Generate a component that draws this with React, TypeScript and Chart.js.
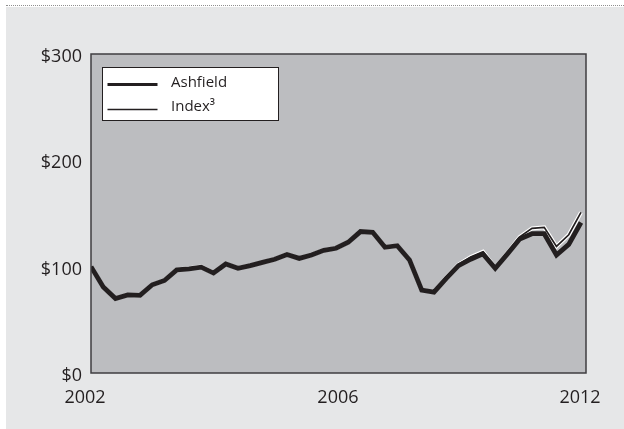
import React, { useEffect, useRef } from "react";
import { Chart, registerables } from "chart.js";

Chart.register(...registerables);

// Quarterly observations, start of 2002 to start of 2012
const periods = [
  "2002Q1", "2002Q2", "2002Q3", "2002Q4",
  "2003Q1", "2003Q2", "2003Q3", "2003Q4",
  "2004Q1", "2004Q2", "2004Q3", "2004Q4",
  "2005Q1", "2005Q2", "2005Q3", "2005Q4",
  "2006Q1", "2006Q2", "2006Q3", "2006Q4",
  "2007Q1", "2007Q2", "2007Q3", "2007Q4",
  "2008Q1", "2008Q2", "2008Q3", "2008Q4",
  "2009Q1", "2009Q2", "2009Q3", "2009Q4",
  "2010Q1", "2010Q2", "2010Q3", "2010Q4",
  "2011Q1", "2011Q2", "2011Q3", "2011Q4",
  "2012Q1",
];

const ashfield = [
  100, 81, 70, 73.4, 73, 83, 87, 97, 98, 99.5,
  94, 102.5, 98.5, 101, 104, 107, 111.5, 107.8, 111, 115.4,
  117.3, 123, 133, 132.3, 118.2, 119.7, 106.3, 78, 76, 89,
  101, 107, 112, 98.5, 112, 126, 131, 131, 111, 121,
  141.5,
];

const index3 = [
  100, 81, 70, 73.4, 73, 83, 87, 97.5, 98.5, 100,
  94, 102.5, 98.5, 101, 104, 107, 111.5, 107.8, 111, 115.4,
  117.3, 123, 133, 132.3, 118.2, 119.7, 106.3, 78, 76, 90,
  102, 109, 114, 99, 113, 128, 136, 137, 119, 130,
  151,
];

const seriesLabels = ["Ashfield", "Index\u00B3"];
const yTickValues = [0, 100, 200, 300];
const xTickValues = [0, 20.65, 40.41];
const xTickLabels = ["2002", "2006", "2012"];

const FONT = '"Open Sans", "Noto Sans", "DejaVu Sans", sans-serif';
const INK = "#231f20";

export default function App() {
  const ref = useRef<HTMLCanvasElement>(null);

  useEffect(() => {
    if (!ref.current) return;
    const toPts = (arr: number[]) => arr.map((v, i) => ({ x: i, y: v }));
    const xMax = xTickValues[xTickValues.length - 1];

    const plotBox = {
      id: "plotBox",
      beforeDatasetsDraw(chart: any) {
        const { ctx, chartArea: a } = chart;
        ctx.save();
        ctx.fillStyle = "#bcbdc0";
        ctx.fillRect(a.left, a.top, a.right - a.left, a.bottom - a.top);
        ctx.restore();
      },
      afterDatasetsDraw(chart: any) {
        const { ctx, chartArea: a } = chart;
        ctx.save();
        // plot frame
        ctx.strokeStyle = "#3f3e40";
        ctx.lineWidth = 1.5;
        ctx.strokeRect(a.left, a.top, a.right - a.left, a.bottom - a.top);

        // legend box
        const bx = Math.round(a.left + 11) + 0.5;
        const by = Math.round(a.top + 13) + 0.5;
        const bw = 176;
        const bh = 53;
        ctx.fillStyle = "#ffffff";
        ctx.fillRect(bx, by, bw, bh);
        ctx.strokeStyle = INK;
        ctx.lineWidth = 1;
        ctx.strokeRect(bx, by, bw, bh);

        const labels = [chart.data.datasets[1].label, chart.data.datasets[0].label];
        const widths = [3, 1.3];
        const lineY = [by + 17, by + 42];
        const textY = [by + 15, by + 39];
        for (let k = 0; k < 2; k++) {
          ctx.beginPath();
          ctx.strokeStyle = INK;
          ctx.lineWidth = widths[k];
          ctx.moveTo(bx + 5, lineY[k]);
          ctx.lineTo(bx + 55, lineY[k]);
          ctx.stroke();
          ctx.fillStyle = INK;
          ctx.font = `15px ${FONT}`;
          ctx.textBaseline = "middle";
          ctx.textAlign = "left";
          ctx.fillText(labels[k], bx + 68.5, textY[k]);
        }
        ctx.restore();
      },
    };

    const chart = new Chart(ref.current, {
      type: "line",
      data: {
        labels: periods,
        datasets: [
          {
            label: seriesLabels[1],
            data: toPts(index3),
            borderColor: INK,
            borderWidth: 1.7,
            pointRadius: 0,
            tension: 0,
            fill: false,
          },
          {
            label: seriesLabels[0],
            data: toPts(ashfield),
            borderColor: INK,
            borderWidth: 4.8,
            pointRadius: 0,
            tension: 0,
            fill: false,
          },
          {
            label: "halo",
            data: toPts(index3),
            borderColor: "#ffffff",
            borderWidth: 4,
            pointRadius: 0,
            tension: 0,
            fill: false,
          },
        ],
      },
      options: {
        animation: false,
        responsive: true,
        maintainAspectRatio: false,
        layout: { padding: { top: 47, right: 38, left: 0, bottom: 0 } },
        plugins: {
          legend: { display: false },
          tooltip: { enabled: false },
        },
        scales: {
          x: {
            type: "linear",
            min: 0,
            max: xMax,
            grid: { display: false, drawTicks: false },
            border: { display: false },
            afterFit(s: any) {
              s.height = 56;
            },
            afterBuildTicks(s: any) {
              s.ticks = xTickValues.map((v) => ({ value: v }));
            },
            ticks: {
              autoSkip: false,
              maxRotation: 0,
              padding: 14,
              labelOffset: -6,
              color: INK,
              font: { family: FONT, size: 18 },
              callback: (v: any) => {
                const i = xTickValues.indexOf(Number(v));
                return i >= 0 ? xTickLabels[i] : "";
              },
            },
          },
          y: {
            min: 0,
            max: 300,
            grid: { display: false, drawTicks: false },
            border: { display: false },
            afterFit(s: any) {
              s.width = 85;
            },
            afterBuildTicks(s: any) {
              s.ticks = yTickValues.map((v) => ({ value: v }));
            },
            ticks: {
              padding: 9,
              labelOffset: 3,
              color: INK,
              font: { family: FONT, size: 18 },
              callback: (v: any) => "$" + v,
            },
          },
        },
      },
      plugins: [plotBox],
    });

    return () => chart.destroy();
  }, []);

  return (
    <div
      style={{
        position: "fixed",
        left: 0,
        top: 0,
        width: 624,
        height: 429,
        background: "#ffffff",
      }}
    >
      <div
        style={{
          position: "absolute",
          left: 6,
          top: 5,
          width: 618,
          height: 0,
          borderTop: "1px dotted #8f8f8f",
        }}
      />
      <div
        style={{
          position: "absolute",
          left: 6,
          top: 7,
          width: 618,
          height: 422,
          background: "#e6e7e8",
        }}
      >
        <canvas ref={ref} />
      </div>
    </div>
  );
}
